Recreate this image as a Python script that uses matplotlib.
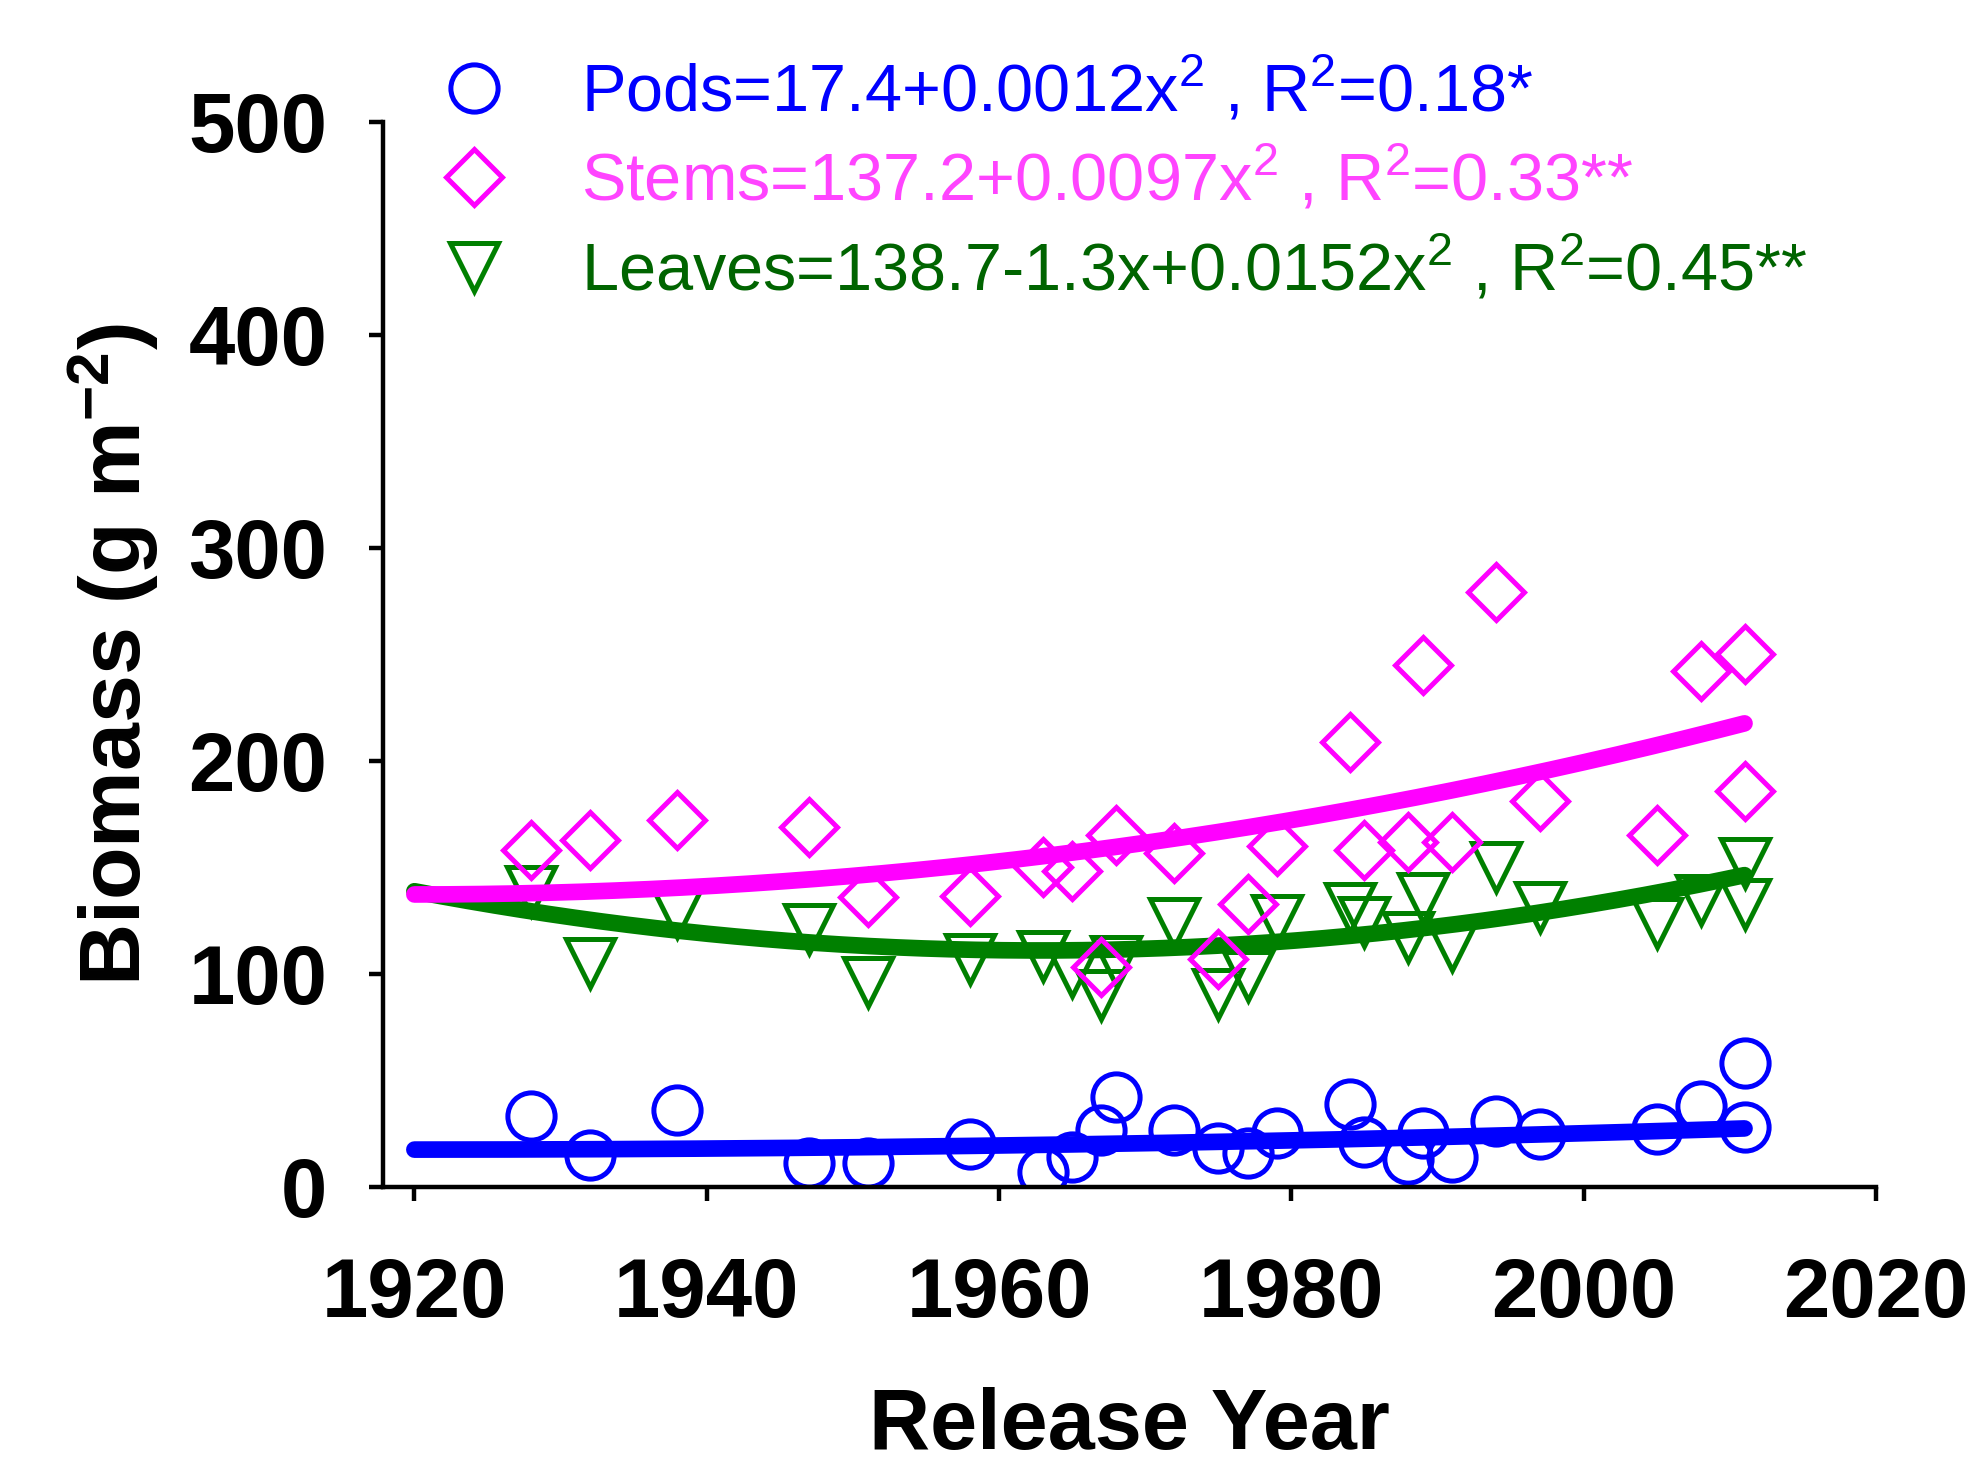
import numpy as np
import matplotlib.pyplot as plt
from matplotlib.lines import Line2D

plt.rcParams["font.family"] = "Liberation Sans"
plt.rcParams["mathtext.fontset"] = "custom"
plt.rcParams["mathtext.rm"] = "Liberation Sans"
plt.rcParams["mathtext.bf"] = "Liberation Sans:bold"
plt.rcParams["mathtext.default"] = "regular"

# release years of the cultivars
years = [1928, 1932, 1938, 1947, 1951, 1958, 1963, 1965, 1967, 1968, 1972, 1975, 1977,
         1979, 1984, 1985, 1988, 1989, 1991, 1994, 1997, 2005, 2008, 2011, 2011]

pods = [33, 15, 36, 11, 11, 20, 7, 14, 26.5, 42, 26.5, 18, 16,
        25, 39, 21, 13, 25, 14, 31, 24.5, 27, 38, 58, 28]
stems = [158, 163, 172, 169, 136, 136.5, 150, 148, 103, 165, 156.5, 107, 132.5,
         160, 209, 158, 162, 245, 162, 279, 181, 165, 242, 250, 186]
leaves = [139, 105, 128.5, 121, 96, 107, 108.5, 101, 90, 106, 124, 90.5, 99,
          125, 131, 124.5, 117, 135.5, 113, 150, 131.5, 124, 134.5, 152, 132.5]

# quadratic fits from the legend, x = year - 1920  (c0, c1, c2)
pods_fit = [17.4, 0.0, 0.0012]
stems_fit = [137.2, 0.0, 0.0097]
leaves_fit = [138.7, -1.3, 0.0152]

labels = [r"Pods=17.4+0.0012x$^2$ , R$^2$=0.18*",
          r"Stems=137.2+0.0097x$^2$ , R$^2$=0.33**",
          r"Leaves=138.7-1.3x+0.0152x$^2$ , R$^2$=0.45**"]

blue = "#0000FF"
pink = "#FF00FF"
green = "#008000"

fig = plt.figure(figsize=(19.69, 14.71), dpi=100)
ax = fig.add_axes([0.1945, 0.1933, 0.9528 - 0.1945, 0.9172 - 0.1933])

xf = np.linspace(1920, 2011, 200)


def fit(c):
    x = xf - 1920
    return c[0] + c[1] * x + c[2] * x ** 2


ms_o = 34
ms_v = 35
ms_d = 29
mew = 3.6
lw = 12

ax.plot(years, leaves, linestyle="none", marker="v", ms=ms_v, mfc="none", mec=green, mew=mew)
ax.plot(xf, fit(leaves_fit), color=green, lw=lw, solid_capstyle="round")
ax.plot(years, stems, linestyle="none", marker="D", ms=ms_d, mfc="none", mec=pink, mew=mew)
ax.plot(xf, fit(stems_fit), color=pink, lw=lw, solid_capstyle="round")
ax.plot(years, pods, linestyle="none", marker="o", ms=ms_o, mfc="none", mec=blue, mew=mew)
ax.plot(xf, fit(pods_fit), color=blue, lw=lw, solid_capstyle="round")

ax.set_xlim(1917.85, 2020)
ax.set_ylim(0, 500)
ax.set_xticks([1920, 1940, 1960, 1980, 2000, 2020])
ax.set_yticks([0, 100, 200, 300, 400, 500])

for s in ["top", "right"]:
    ax.spines[s].set_visible(False)
for s in ["left", "bottom"]:
    ax.spines[s].set_linewidth(3.2)

ax.tick_params(axis="both", direction="out", length=10, width=3.2, labelsize=60)
ax.tick_params(axis="x", pad=40)
ax.tick_params(axis="y", pad=30)
for t in ax.get_xticklabels() + ax.get_yticklabels():
    t.set_fontweight("bold")

ax.set_xlabel("Release Year", fontsize=61, fontweight="bold", labelpad=38)
ax.set_ylabel(r"Biomass (g m$^{\mathbf{-2}}$)", fontsize=62, fontweight="bold", labelpad=20)

handles = [
    Line2D([], [], linestyle="none", marker="o", ms=ms_o, mfc="none", mec=blue, mew=mew),
    Line2D([], [], linestyle="none", marker="D", ms=ms_d, mfc="none", mec=pink, mew=mew),
    Line2D([], [], linestyle="none", marker="v", ms=ms_v, mfc="none", mec=green, mew=mew),
]
leg = fig.legend(handles, labels, loc="upper left", bbox_to_anchor=(0.224, 0.962),
                 frameon=False, fontsize=48, handlelength=1.0, handletextpad=1.1,
                 labelspacing=0.3, borderpad=0, borderaxespad=0)
for txt, c in zip(leg.get_texts(), [blue, "#FF44FF", "#006400"]):
    txt.set_color(c)

fig.savefig("out.png", dpi=100)
